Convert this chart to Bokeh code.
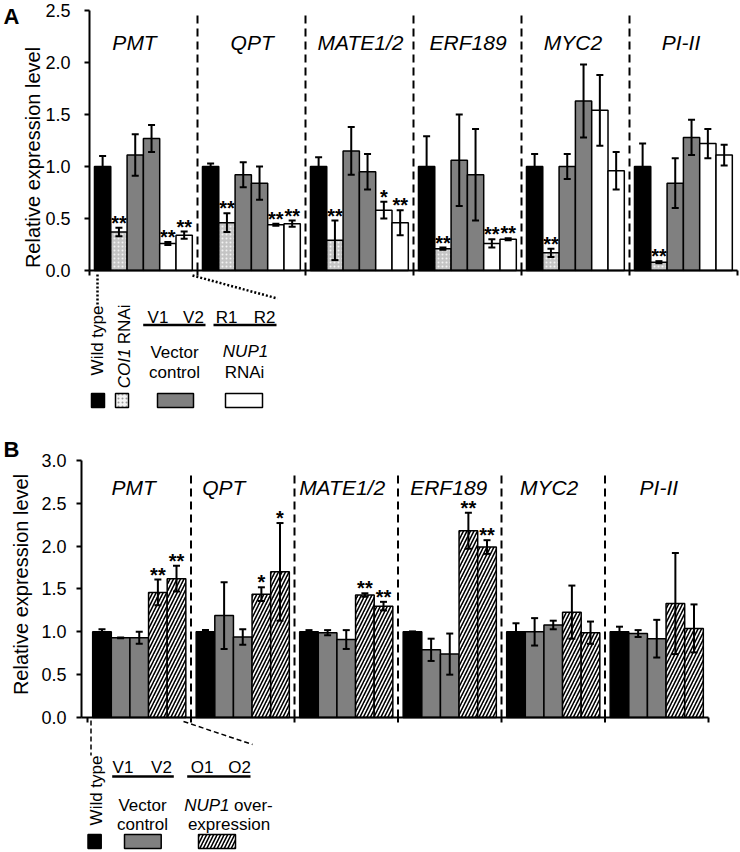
import math
from bokeh.plotting import figure
from bokeh.models import (Range1d, FixedTicker, NumeralTickFormatter, Whisker,
                          TeeHead, ColumnDataSource)
from bokeh.layouts import column
from bokeh.embed import file_html
from bokeh.resources import INLINE
from bokeh.core.properties import value

FONT = "Liberation Sans"

# ---------------- data ----------------
genes = ["PMT", "QPT", "MATE1/2", "ERF189", "MYC2", "PI-II"]

# Panel A: Wild type, COI1 RNAi, V1, V2 (vector control), R1, R2 (NUP1 RNAi)
a_wt = [1.00, 1.00, 1.00, 1.00, 1.00, 1.00]
a_wt_err = [0.10, 0.03, 0.09, 0.29, 0.12, 0.22]
a_coi1 = [0.37, 0.46, 0.29, 0.21, 0.17, 0.08]
a_coi1_err = [0.04, 0.09, 0.19, 0.01, 0.04, 0.01]
a_v1 = [1.11, 0.92, 1.15, 1.06, 1.00, 0.84]
a_v1_err = [0.20, 0.12, 0.23, 0.44, 0.12, 0.24]
a_v2 = [1.27, 0.84, 0.95, 0.92, 1.63, 1.28]
a_v2_err = [0.13, 0.16, 0.17, 0.44, 0.35, 0.17]
a_r1 = [0.26, 0.44, 0.58, 0.26, 1.54, 1.22]
a_r1_err = [0.015, 0.01, 0.08, 0.04, 0.34, 0.14]
a_r2 = [0.34, 0.45, 0.46, 0.30, 0.96, 1.11]
a_r2_err = [0.035, 0.03, 0.12, 0.01, 0.18, 0.10]
a_coi1_sig = ["**", "**", "**", "**", "**", "**"]
a_r1_sig = ["**", "**", "*", "**", "", ""]
a_r2_sig = ["**", "**", "**", "**", "", ""]

# Panel B: Wild type, V1, V2 (vector control), O1, O2 (NUP1 overexpression)
b_wt = [1.00, 1.00, 1.00, 1.00, 1.00, 1.00]
b_wt_err = [0.03, 0.02, 0.02, 0.005, 0.10, 0.06]
b_v1 = [0.93, 1.19, 0.99, 0.79, 1.00, 0.98]
b_v1_err = [0.005, 0.39, 0.03, 0.13, 0.16, 0.04]
b_v2 = [0.93, 0.94, 0.91, 0.74, 1.08, 0.92]
b_v2_err = [0.07, 0.09, 0.11, 0.24, 0.05, 0.22]
b_o1 = [1.46, 1.44, 1.43, 2.18, 1.23, 1.33]
b_o1_err = [0.15, 0.08, 0.02, 0.21, 0.31, 0.59]
b_o2 = [1.62, 1.70, 1.30, 1.99, 0.99, 1.04]
b_o2_err = [0.15, 0.57, 0.05, 0.08, 0.13, 0.28]
b_o1_sig = ["**", "*", "**", "**", "", ""]
b_o2_sig = ["**", "*", "**", "**", "", ""]

a_ticks = [0.0, 0.5, 1.0, 1.5, 2.0, 2.5]
b_ticks = [0.0, 0.5, 1.0, 1.5, 2.0, 2.5, 3.0]

# ---------------- layout helpers ----------------
gx = list(range(len(genes)))

WT = dict(fill_color="black")
COI = dict(fill_color="#c4c4c4", hatch_pattern=".", hatch_color="#f2f2f2", hatch_scale=4)
VEC = dict(fill_color="#808080")
RNAI = dict(fill_color="white")
OX = dict(fill_color="white", hatch_pattern="/", hatch_color="black", hatch_scale=7, hatch_weight=1.6)

PAGE_W = 740


def base_fig(height, x_start, x_end, y_start, y_end):
    p = figure(width=PAGE_W, height=height, x_range=Range1d(x_start, x_end),
               y_range=Range1d(y_start, y_end), output_backend="svg",
               toolbar_location=None, x_axis_location=None,
               min_border_left=0, min_border_right=0,
               min_border_top=0, min_border_bottom=0)
    p.xgrid.visible = False
    p.ygrid.visible = False
    p.outline_line_color = None
    p.background_fill_color = "white"
    p.border_fill_color = "white"
    return p


def style_yaxis(p, ticks, loc, standoff):
    ax = p.yaxis[0]
    ax.fixed_location = loc
    ax.ticker = FixedTicker(ticks=ticks)
    ax.formatter = NumeralTickFormatter(format="0.0")
    ax.bounds = (ticks[0], ticks[-1])
    ax.axis_line_width = 2
    ax.axis_line_color = "black"
    ax.major_tick_line_width = 2
    ax.major_tick_in = 0
    ax.major_tick_out = 5
    ax.minor_tick_line_color = None
    ax.major_label_text_font = FONT
    ax.major_label_text_font_size = "18px"
    ax.major_label_text_color = "black"
    ax.major_label_standoff = standoff


def draw_series(p, offset, width, vals, errs, sig, style):
    xs = [g + offset for g in gx]
    p.vbar(x=xs, top=vals, bottom=0, width=width, line_color="black",
           line_width=1.5, **style)
    src = ColumnDataSource(dict(x=xs,
                                upper=[v + e for v, e in zip(vals, errs)],
                                lower=[v - e for v, e in zip(vals, errs)]))
    w = Whisker(source=src, base="x", upper="upper", lower="lower",
                line_width=2, line_color="black",
                upper_head=TeeHead(size=7, line_width=2, line_color="black"),
                lower_head=TeeHead(size=7, line_width=2, line_color="black"),
                level="overlay")
    p.add_layout(w)
    if sig:
        sx, sy, st = [], [], []
        for x, v, e, s in zip(xs, vals, errs, sig):
            if s:
                sx.append(x)
                sy.append(v + e)
                st.append(s)
        p.text(x=sx, y=sy, text=st, text_font=value(FONT),
               text_font_style="bold", text_font_size="20px",
               text_align="center", text_baseline="alphabetic", y_offset=-5,
               text_color="black")


def frame_lines(p, x0, sep_top, tick_len):
    seps = gx[1:]
    p.segment(x0=seps, y0=[0] * len(seps), x1=seps, y1=[sep_top] * len(seps),
              line_dash="8 5", line_width=2, line_color="black")
    p.segment(x0=[x0], y0=[0], x1=[6], y1=[0], line_width=2, line_color="black")
    tk = list(range(len(genes) + 1))
    p.segment(x0=tk, y0=[0] * len(tk), x1=tk, y1=[-tick_len] * len(tk),
              line_width=2, line_color="black")


def txt(p, x, y, t, size="17px", style="normal", align="center",
        baseline="alphabetic", angle=0.0):
    p.text(x=[x], y=[y], text=[t], text_font=value(FONT), text_font_size=size,
           text_font_style=style, text_align=align, text_baseline=baseline,
           angle=angle, text_color="black")


# ================= Panel A =================
# page pixel frame: x 0..740, y 0..430 ; axis origin at page (89, 270)
A_XS = 108.0
A_SC = 104.0


def ax_(px):
    return (px - 89) / A_XS


def ay_(py):
    return (270 - py) / A_SC


pa = base_fig(430, ax_(0), ax_(PAGE_W), ay_(430), ay_(0))
style_yaxis(pa, a_ticks, 0.0, 14)

bw_a = 0.151
offs_a = [0.1215 + bw_a * i for i in range(6)]
draw_series(pa, offs_a[0], bw_a, a_wt, a_wt_err, None, WT)
draw_series(pa, offs_a[1], bw_a, a_coi1, a_coi1_err, a_coi1_sig, COI)
draw_series(pa, offs_a[2], bw_a, a_v1, a_v1_err, None, VEC)
draw_series(pa, offs_a[3], bw_a, a_v2, a_v2_err, None, VEC)
draw_series(pa, offs_a[4], bw_a, a_r1, a_r1_err, a_r1_sig, RNAI)
draw_series(pa, offs_a[5], bw_a, a_r2, a_r2_err, a_r2_sig, RNAI)
frame_lines(pa, 0.0, 2.48, 5 / A_SC)

title_pos_a = [0.417, 1.506, 2.509, 3.505, 4.477, 5.477]
pa.text(x=title_pos_a, y=[ay_(42)] * 6, text=genes, text_font=value(FONT),
        text_font_size="21px", text_font_style="italic", text_align="center",
        text_baseline="alphabetic", text_color="black")

txt(pa, ax_(32), ay_(157), "Relative expression level", size="20px",
    baseline="middle", angle=math.pi / 2)
txt(pa, ax_(3), ay_(3), "A", size="22px", style="bold", align="left", baseline="top")

# legend A
pa.segment(x0=[ax_(97), ax_(192)], y0=[ay_(274), ay_(275)],
           x1=[ax_(97), ax_(277)], y1=[ay_(304), ay_(298)],
           line_dash="2 2", line_width=2.5, line_color="black")
txt(pa, ax_(97), ay_(305), "Wild type", align="right", baseline="middle", angle=math.pi / 2)
txt(pa, ax_(123.5), ay_(304), "RNAi", align="right", baseline="middle", angle=math.pi / 2)
txt(pa, ax_(123.5), ay_(348), "COI1", style="italic", align="right", baseline="middle", angle=math.pi / 2)
txt(pa, ax_(157.5), ay_(317), "V1")
txt(pa, ax_(193), ay_(317), "V2")
txt(pa, ax_(226), ay_(317), "R1")
txt(pa, ax_(264), ay_(317), "R2")
pa.segment(x0=[ax_(142.7), ax_(213)], y0=[ay_(324.5)] * 2,
           x1=[ax_(205), ax_(276)], y1=[ay_(324.5)] * 2,
           line_width=2.5, line_color="black")
txt(pa, ax_(174), ay_(352), "Vector")
txt(pa, ax_(174), ay_(372), "control")
txt(pa, ax_(245), ay_(351), "NUP1", style="italic")
txt(pa, ax_(244), ay_(372), "RNAi")
box_top, box_bot = ay_(393), ay_(407)
pa.quad(left=[ax_(91)], right=[ax_(104)], top=[box_top], bottom=[box_bot],
        line_color="black", line_width=1.5, fill_color="black")
pa.quad(left=[ax_(115)], right=[ax_(128)], top=[box_top], bottom=[box_bot],
        line_color="black", line_width=1.5, fill_color="#f4f4f4",
        hatch_pattern=".", hatch_color="#9a9a9a", hatch_scale=4)
pa.quad(left=[ax_(157)], right=[ax_(193)], top=[box_top], bottom=[box_bot],
        line_color="black", line_width=1.5, fill_color="#808080")
pa.quad(left=[ax_(225)], right=[ax_(262)], top=[box_top], bottom=[box_bot],
        line_color="black", line_width=1.5, fill_color="white")

# ================= Panel B =================
# page pixel frame: x 0..740, y 430..851 ; axis origin at page (87, 717)
B_XS = 103.5
B_SC = 85.667


def bx_(px):
    return (px - 87) / B_XS


def by_(py):
    return (717 - py) / B_SC


pb = base_fig(421, bx_(0), bx_(PAGE_W), by_(851), by_(430))
yaxis_b = bx_(81)
style_yaxis(pb, b_ticks, yaxis_b, 10)

bw_b = 0.18
offs_b = [0.14 + bw_b * i for i in range(5)]
draw_series(pb, offs_b[0], bw_b, b_wt, b_wt_err, None, WT)
draw_series(pb, offs_b[1], bw_b, b_v1, b_v1_err, None, VEC)
draw_series(pb, offs_b[2], bw_b, b_v2, b_v2_err, None, VEC)
draw_series(pb, offs_b[3], bw_b, b_o1, b_o1_err, b_o1_sig, OX)
draw_series(pb, offs_b[4], bw_b, b_o2, b_o2_err, b_o2_sig, OX)
frame_lines(pb, yaxis_b, 2.85, 5 / B_SC)

title_pos_b = [0.447, 1.317, 2.46, 3.49, 4.46, 5.52]
pb.text(x=title_pos_b, y=[by_(486.7)] * 6, text=genes, text_font=value(FONT),
        text_font_size="21px", text_font_style="italic", text_align="center",
        text_baseline="alphabetic", text_color="black")

txt(pb, bx_(20), by_(584), "Relative expression level", size="20px",
    baseline="middle", angle=math.pi / 2)
txt(pb, bx_(3), by_(436), "B", size="22px", style="bold", align="left", baseline="top")

# legend B
pb.segment(x0=[bx_(90.5), bx_(183)], y0=[by_(720), by_(721)],
           x1=[bx_(90.5), bx_(252)], y1=[by_(755), by_(744)],
           line_dash="5 3", line_width=1.5, line_color="black")
txt(pb, bx_(96), by_(755), "Wild type", align="right", baseline="middle", angle=math.pi / 2)
txt(pb, bx_(122.5), by_(766.5), "V1")
txt(pb, bx_(161), by_(766.5), "V2")
txt(pb, bx_(201.7), by_(766.5), "O1")
txt(pb, bx_(239), by_(766.5), "O2")
pb.segment(x0=[bx_(111.7), bx_(186.7)], y0=[by_(776)] * 2,
           x1=[bx_(173.3), bx_(250)], y1=[by_(776)] * 2,
           line_width=2.5, line_color="black")
txt(pb, bx_(142), by_(805), "Vector")
txt(pb, bx_(142), by_(824), "control")
txt(pb, bx_(229), by_(805), "NUP1", style="italic", align="right")
txt(pb, bx_(233.5), by_(805), "over-", align="left")
txt(pb, bx_(228.5), by_(824), "expression")
bt, bb = by_(834), by_(848)
pb.quad(left=[bx_(87.5)], right=[bx_(100.7)], top=[bt], bottom=[bb],
        line_color="black", line_width=1.5, fill_color="black")
pb.quad(left=[bx_(124)], right=[bx_(160.7)], top=[bt], bottom=[bb],
        line_color="black", line_width=1.5, fill_color="#808080")
pb.quad(left=[bx_(198)], right=[bx_(235)], top=[bt], bottom=[bb],
        line_color="black", line_width=1.5, fill_color="white",
        hatch_pattern="/", hatch_color="black", hatch_scale=7, hatch_weight=1.6)

layout = column(pa, pb, spacing=0)
open("out.html", "w").write(file_html(layout, INLINE))
